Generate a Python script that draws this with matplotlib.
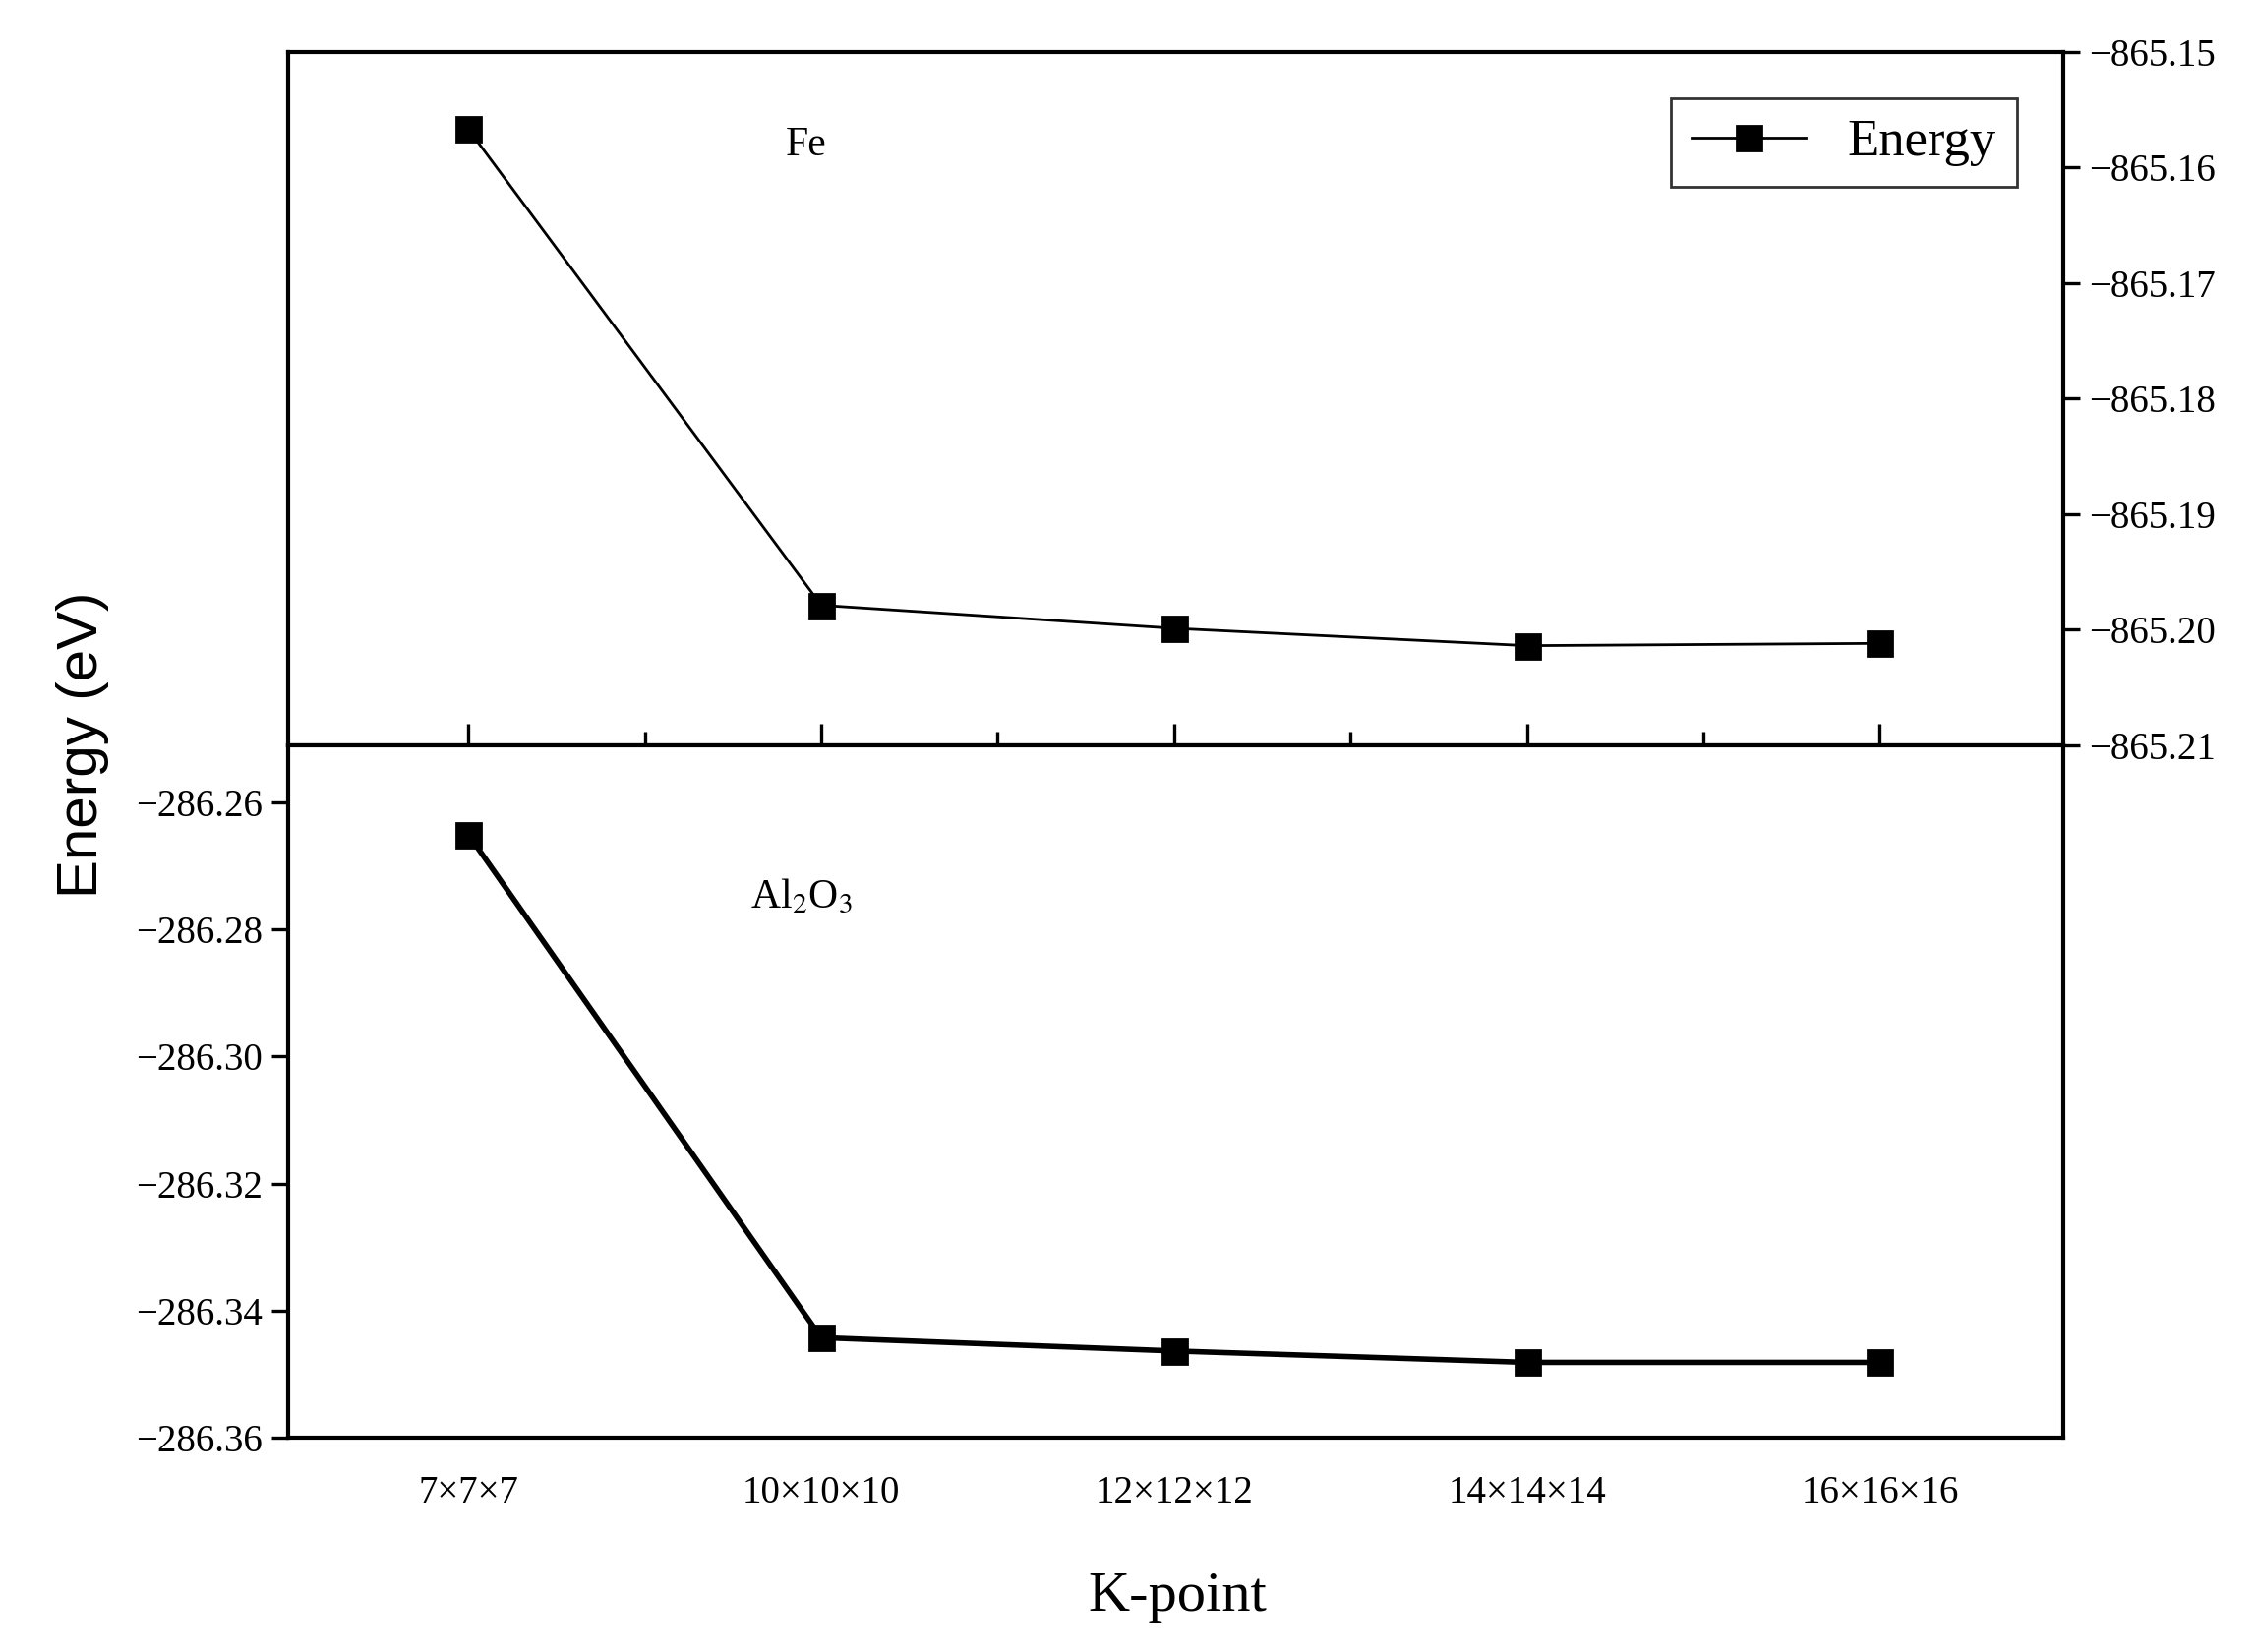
import matplotlib
matplotlib.use("Agg")
import matplotlib.pyplot as plt
import numpy as np

kpoints = ["7×7×7", "10×10×10", "12×12×12", "14×14×14", "16×16×16"]
fe_energy = [-865.1567, -865.1979, -865.1999, -865.2014, -865.2012]
al2o3_energy = [-286.2650, -286.3443, -286.3464, -286.3482, -286.3482]

plt.rcParams["font.family"] = ["Liberation Serif", "DejaVu Serif"]
plt.rcParams["mathtext.fontset"] = "stix"

fig = plt.figure(figsize=(11.49, 8.4), dpi=200)
left, right = 0.1276, 0.913
ax_top = fig.add_axes([left, 0.549, right - left, 0.9686 - 0.549])
ax_bot = fig.add_axes([left, 0.130, right - left, 0.549 - 0.130])

x = np.arange(len(kpoints))

ax_top.plot(x, fe_energy, color="black", linewidth=1.0, marker="s", markersize=9, label="Energy")
ax_top.set_xlim(-0.51, 4.52)
ax_top.set_ylim(-865.21, -865.15)
ax_top.yaxis.tick_right()
ax_top.set_yticks([-865.15, -865.16, -865.17, -865.18, -865.19, -865.20, -865.21])
ax_top.set_yticklabels(["\u2212865.15", "\u2212865.16", "\u2212865.17", "\u2212865.18",
                        "\u2212865.19", "\u2212865.20", "\u2212865.21"])
ax_top.set_xticks(x)
ax_top.set_xticks(x[:-1] + 0.5, minor=True)
ax_top.tick_params(axis="x", which="both", direction="in", labelbottom=False, length=8, width=1.2)
ax_top.tick_params(axis="x", which="minor", length=5)
ax_top.tick_params(axis="y", direction="out", length=6, width=1.2, labelsize=14)
ax_top.text(0.9, -865.159, "Fe", fontsize=15)
leg = ax_top.legend(loc="upper right", fontsize=19, fancybox=False, edgecolor="black",
                    handlelength=2.2, borderaxespad=0.9)
leg.get_frame().set_linewidth(1.0)

ax_bot.plot(x, al2o3_energy, color="black", linewidth=2.0, marker="s", markersize=9)
ax_bot.set_xlim(-0.51, 4.52)
ax_bot.set_ylim(-286.36, -286.2509)
ax_bot.set_yticks([-286.26, -286.28, -286.30, -286.32, -286.34, -286.36])
ax_bot.set_yticklabels(["\u2212286.26", "\u2212286.28", "\u2212286.30", "\u2212286.32",
                        "\u2212286.34", "\u2212286.36"])
ax_bot.set_xticks(x)
ax_bot.set_xticklabels(kpoints)
ax_bot.tick_params(axis="x", length=0, labelsize=14, pad=14)
ax_bot.tick_params(axis="y", direction="out", length=6, width=1.2, labelsize=14)
ax_bot.text(0.8, -286.2765, r"Al$_2$O$_3$", fontsize=15)

for ax in (ax_top, ax_bot):
    for s in ax.spines.values():
        s.set_linewidth(1.5)

fig.text(0.521, 0.025, "K-point", fontsize=21, ha="center")
fig.text(0.025, 0.549, "Energy (eV)", fontsize=21, rotation=90, va="center",
         family=["Liberation Sans", "DejaVu Sans"])

fig.savefig("out.png", dpi=200)
